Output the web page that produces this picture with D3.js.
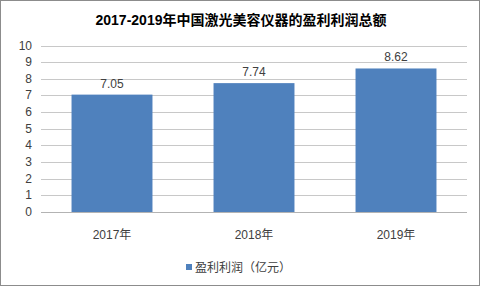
<!DOCTYPE html>
<html>
<head>
<meta charset="utf-8">
<script src="https://cdnjs.cloudflare.com/ajax/libs/d3/7.8.5/d3.min.js"></script>
<style>
  body { margin: 0; background: #fff; }
  text { font-family: "Liberation Sans", "Noto Sans CJK SC", sans-serif; }
</style>
</head>
<body>
<div id="chart"></div>
<script>
var years = ["2017年", "2018年", "2019年"]
var profit = [7.05, 7.74, 8.62]
var yTicks = [0, 1, 2, 3, 4, 5, 6, 7, 8, 9, 10]
var seriesName = "盈利利润（亿元）"
var title = "2017-2019年中国激光美容仪器的盈利利润总额"

var W = 482, H = 289
var svg = d3.select("#chart").append("svg").attr("width", W).attr("height", H)

// outer frame
svg.append("rect").attr("x", 0.5).attr("y", 0.5).attr("width", W - 3).attr("height", H - 4)
  .attr("fill", "#fff").attr("stroke", "#8c8c8c").attr("stroke-width", 1)

var x = d3.scaleBand().domain(years).range([41, 467]).paddingInner(0.43).paddingOuter(0.215)
var y = d3.scaleLinear().domain([0, 10]).range([212, 45.5])

// grid
svg.selectAll("line.grid").data(yTicks).enter().append("line")
  .attr("class", "grid")
  .attr("x1", 41).attr("x2", 467)
  .attr("y1", function(d){ return Math.round(y(d)) + 0.5 })
  .attr("y2", function(d){ return Math.round(y(d)) + 0.5 })
  .attr("stroke", function(d){ return d == 0 ? "#b3b3b3" : "#c8c8c8" })
  .attr("stroke-width", 1)

// y labels
svg.selectAll("text.ytick").data(yTicks).enter().append("text")
  .attr("class", "ytick")
  .attr("x", 32).attr("y", function(d){ return y(d) + 4 })
  .attr("text-anchor", "end").attr("font-size", 12).attr("fill", "#404040")
  .text(function(d){ return d })

// bars
svg.selectAll("rect.bar").data(profit).enter().append("rect")
  .attr("class", "bar")
  .attr("x", function(d, i){ return x(years[i]) })
  .attr("y", function(d){ return y(d) })
  .attr("width", x.bandwidth())
  .attr("height", function(d){ return y(0) - y(d) })
  .attr("fill", "#4f81bd")

// value labels
svg.selectAll("text.val").data(profit).enter().append("text")
  .attr("class", "val")
  .attr("x", function(d, i){ return x(years[i]) + x.bandwidth() / 2 })
  .attr("y", function(d){ return y(d) - 7 })
  .attr("text-anchor", "middle").attr("font-size", 12).attr("fill", "#404040")
  .text(function(d){ return d.toFixed(2) })

// x labels
svg.selectAll("text.xtick").data(years).enter().append("text")
  .attr("class", "xtick")
  .attr("x", function(d){ return x(d) + x.bandwidth() / 2 })
  .attr("y", 239)
  .attr("text-anchor", "middle").attr("font-size", 12).attr("fill", "#404040")
  .text(function(d){ return d })

// title
svg.append("text").attr("x", 241).attr("y", 25)
  .attr("text-anchor", "middle").attr("font-size", 14).attr("font-weight", "bold").attr("fill", "#000")
  .text(title)

// legend
svg.append("rect").attr("x", 186).attr("y", 264).attr("width", 6).attr("height", 6).attr("fill", "#4f81bd")
svg.append("text").attr("x", 195).attr("y", 272).attr("font-size", 12).attr("fill", "#404040").text(seriesName)
</script>
</body>
</html>
